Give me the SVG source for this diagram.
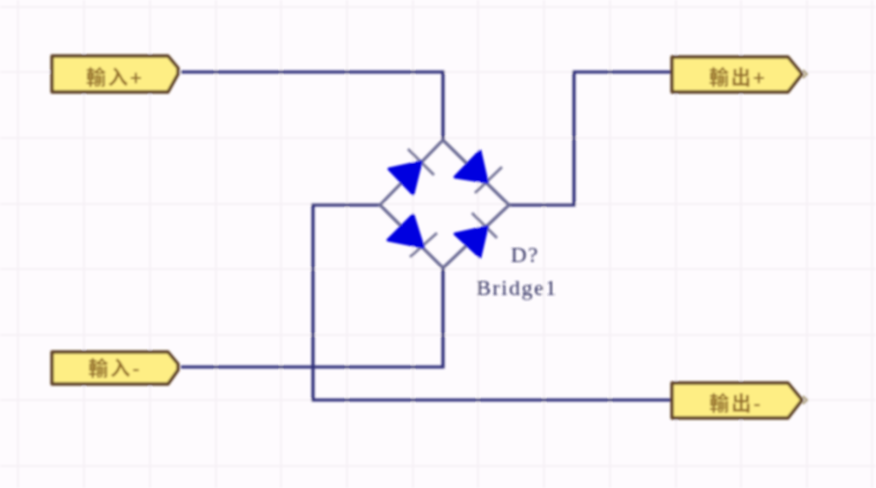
<svg xmlns="http://www.w3.org/2000/svg" width="876" height="488" viewBox="0 0 876 488">
<style>
.grid line{stroke:#f6f1f6;stroke-width:2}
.wire{fill:none;stroke:#2e2e78;stroke-width:3.2}
.lead{fill:none;stroke:#6c6c95;stroke-width:3.2}
.bar{fill:none;stroke:#77779a;stroke-width:2.8}
.tri{fill:#0000e0;stroke:#0000e0;stroke-width:3;stroke-linejoin:round}
.port{fill:#feee84;stroke:#5f4228;stroke-width:3.4;stroke-linejoin:round}
.tip{fill:none;stroke:#a89a70;stroke-width:2}
.pl{font-family:"Noto Sans CJK SC","Liberation Sans",sans-serif;font-size:20px;letter-spacing:2px;fill:#94702a;font-weight:700;text-anchor:middle}
.ref{font-family:"Liberation Serif","DejaVu Serif",serif;font-size:22px;letter-spacing:1.5px;fill:#2f2f60;text-anchor:middle}
</style>
<defs><filter id="soft" x="-2%" y="-2%" width="104%" height="104%"><feGaussianBlur stdDeviation="1"/></filter></defs>
<rect width="876" height="488" fill="#fefbfe"/>
<g filter="url(#soft)">
<g class="grid">
<line x1="18" y1="0" x2="18" y2="488"/><line x1="84" y1="0" x2="84" y2="488"/><line x1="150" y1="0" x2="150" y2="488"/><line x1="216" y1="0" x2="216" y2="488"/><line x1="281" y1="0" x2="281" y2="488"/><line x1="347" y1="0" x2="347" y2="488"/><line x1="413" y1="0" x2="413" y2="488"/><line x1="478" y1="0" x2="478" y2="488"/><line x1="544" y1="0" x2="544" y2="488"/><line x1="610" y1="0" x2="610" y2="488"/><line x1="676" y1="0" x2="676" y2="488"/><line x1="741" y1="0" x2="741" y2="488"/><line x1="807" y1="0" x2="807" y2="488"/><line x1="872" y1="0" x2="872" y2="488"/>
<line x1="0" y1="7" x2="876" y2="7"/><line x1="0" y1="72" x2="876" y2="72"/><line x1="0" y1="138" x2="876" y2="138"/><line x1="0" y1="204" x2="876" y2="204"/><line x1="0" y1="269" x2="876" y2="269"/><line x1="0" y1="335" x2="876" y2="335"/><line x1="0" y1="400" x2="876" y2="400"/><line x1="0" y1="466" x2="876" y2="466"/>
</g>
<g id="connectors">
<path class="wire" d="M181 72H443V140"/>
<path class="wire" d="M509 205H574V72H671"/>
<path class="wire" d="M181 367H443V268"/>
<path class="wire" d="M380 205H313V400H671"/>
</g>
<g id="bridge">
<path class="lead" d="M380 205L443 140L509 205L443 268Z"/>
<path class="bar" d="M408 149L434 175M475 193L502 167M410 257L437 233M472 213L497 238"/>
<path class="tri" d="M389 169L421 162L413 194Z"/>
<path class="tri" d="M455 177L480 151L487 182Z"/>
<path class="tri" d="M388 240L413 215L423 247Z"/>
<path class="tri" d="M455 234L487 227L480 257Z"/>
<text class="ref" x="525" y="262">D?</text>
<text class="ref" x="517" y="295">Bridge1</text>
</g>
<g id="in-plus">
<path class="port" d="M52 56H168L178 68V74L168 92H52Z"/>
<text class="pl" x="115" y="85">輸入+</text>
</g>
<g id="in-minus">
<path class="port" d="M52 352H168L178 364V370L168 384H52Z"/>
<text class="pl" x="115" y="376">輸入-</text>
</g>
<g id="out-plus">
<path class="port" d="M672 57H788L802 74L788 92H672Z"/>
<path class="tip" d="M803 70L807 74L803 78"/>
<text class="pl" x="738" y="85">輸出+</text>
</g>
<g id="out-minus">
<path class="port" d="M672 383H788L802 400L788 418H672Z"/>
<path class="tip" d="M803 396L807 400L803 404"/>
<text class="pl" x="736" y="411">輸出-</text>
</g>
</g>
</svg>
